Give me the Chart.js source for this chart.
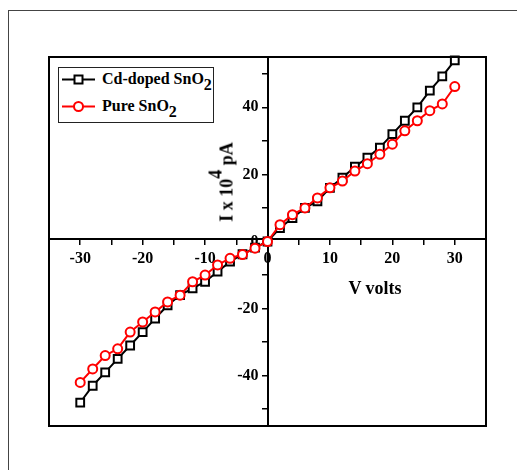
<!DOCTYPE html>
<html>
<head>
<meta charset="utf-8">
<script src="https://cdn.jsdelivr.net/npm/chart.js@4.4.1/dist/chart.umd.min.js"></script>
<style>
  html, body { margin: 0; padding: 0; background: #fff; }
  #wrap { position: relative; width: 517px; height: 470px; overflow: hidden;
          font-family: "Liberation Serif", "Times New Roman", serif; font-weight: bold; color: #000; }
  #frame { position: absolute; left: 8px; top: 10px; width: 600px; height: 600px;
           border-top: 1px solid #444; border-left: 1px solid #444; }
  canvas { position: absolute; left: 0; top: 0; }
  #legend { position: absolute; left: 58px; top: 67px; width: 154px; height: 54px;
            border: 1px solid #222; background: #fff; }
  #legend .row { position: absolute; left: 3px; height: 20px; display: flex; align-items: center; white-space: nowrap; }
  #legend svg { margin-right: 7px; }
  #legend span { font-size: 16px; }
  .sub { font-size: 16px; position: relative; top: 6px; }
  .sup { font-size: 18px; position: relative; top: -11px; }
  #xtitle { position: absolute; left: 375px; top: 288px; transform: translate(-50%, -50%); font-size: 18px; white-space: nowrap; }
  #ytitle { position: absolute; left: 227px; top: 182px; transform: translate(-50%, -50%) rotate(-90deg);
            font-size: 18px; white-space: nowrap; }
</style>
</head>
<body>
<div id="wrap">
  <div id="frame"></div>
  <canvas id="ivChart" width="517" height="470"></canvas>
  <div id="legend"></div>
  <div id="xtitle">V volts</div>
  <div id="ytitle">I x 10<span class="sup">4</span> pA</div>
</div>
<script>
// voltage steps (V)
const voltage = [-30, -28, -26, -24, -22, -20, -18, -16, -14, -12, -10, -8, -6, -4, -2, 0,
                 2, 4, 6, 8, 10, 12, 14, 16, 18, 20, 22, 24, 26, 28, 30];

// current, I x 10^4 pA
const cdDopedCurrent = [-48, -43, -39, -35, -31, -27, -23, -19, -16, -14, -12, -9, -6, -3.8, -1.8, 0,
                        4, 7, 10, 12, 16, 19, 22.3, 25, 28, 32, 36, 40, 45, 49.2, 54];
const pureCurrent = [-42, -38, -34, -32, -27, -24, -21, -18, -16, -12, -10, -7, -5, -3.9, -2, 0,
                     5, 8, 10, 13, 16, 18, 21, 23.2, 26, 29, 33, 36, 39, 41, 46.2];

const seriesNames = ['Cd-doped SnO|2', 'Pure SnO|2'];

// tick marks and tick labels on the axes
const yTickMarks = [-50, -40, -30, -20, -10, 0, 10, 20, 30, 40, 50];
const xTickLabels = [-30, -20, -10, 0, 10, 20, 30];
const yTickLabels = [-40, -20, 0, 20, 40];

let toPoints = (ys) => voltage.map((v, i) => ({ x: v, y: ys[i] }));

// box around the plot area
const plotFrame = {
    id: 'plotFrame',
    afterDraw(chart) {
        let { ctx, chartArea: a } = chart;
        ctx.save();
        ctx.strokeStyle = '#000';
        ctx.lineWidth = 2;
        ctx.strokeRect(a.left, a.top, a.right - a.left, a.bottom - a.top);
        ctx.restore();
    }
};

let ctx = document.getElementById('ivChart').getContext('2d');
let myChart = new Chart(ctx, {
    type: 'line',
    data: {
        datasets: [{
            label: seriesNames[0],
            data: toPoints(cdDopedCurrent),
            borderColor: '#000',
            borderWidth: 2,
            pointStyle: 'rect',
            pointRadius: 5.5,
            pointBorderWidth: 2,
            pointBackgroundColor: '#fff',
            pointBorderColor: '#000',
            order: 1,
            clip: 10
        }, {
            label: seriesNames[1],
            data: toPoints(pureCurrent),
            borderColor: '#ff0000',
            borderWidth: 2,
            pointStyle: 'circle',
            pointRadius: 4.5,
            pointBorderWidth: 2,
            pointBackgroundColor: '#fff',
            pointBorderColor: '#ff0000',
            order: 0,
            clip: 10
        }]
    },
    options: {
        responsive: false,
        animation: false,
        devicePixelRatio: 1,
        layout: { padding: { left: 49, top: 57, right: 31, bottom: 44 } },
        plugins: { legend: { display: false }, tooltip: { enabled: false } },
        scales: {
            x: {
                type: 'linear',
                min: -35,
                max: 35,
                position: { y: 0.7 },
                afterFit: (s) => { s.height = 0 },
                ticks: {
                    stepSize: 5,
                    padding: 5,
                    color: '#000',
                    font: { family: 'Liberation Serif', size: 16, weight: 'bold' },
                    callback: (v) => xTickLabels.includes(v) ? String(v) : ''
                },
                grid: { drawOnChartArea: false, drawTicks: true, tickLength: 5, color: '#000', lineWidth: 1.5 },
                border: { display: true, color: '#000', width: 2 }
            },
            y: {
                type: 'linear',
                min: -55,
                max: 55,
                position: 'center',
                afterFit: (s) => { s.width = 0 },
                afterBuildTicks: (s) => { s.ticks = yTickMarks.map(v => ({ value: v })) },
                ticks: {
                    padding: 4,
                    color: '#000',
                    font: { family: 'Liberation Serif', size: 16, weight: 'bold' },
                    callback: (v) => yTickLabels.includes(v) ? String(v) : ''
                },
                grid: { drawOnChartArea: false, drawTicks: true, tickLength: 5, color: '#000', lineWidth: 1.5 },
                border: { display: true, color: '#000', width: 2 }
            }
        }
    },
    plugins: [plotFrame]
});

// html legend built from the datasets
let legend = document.getElementById('legend');
myChart.data.datasets.forEach((ds, i) => {
    let c = ds.borderColor;
    let marker = ds.pointStyle == 'rect'
        ? `<rect x="12.5" y="3.5" width="8" height="8" fill="#fff" stroke="${c}" stroke-width="2"/>`
        : `<circle cx="16.5" cy="7.5" r="4.5" fill="#fff" stroke="${c}" stroke-width="2"/>`;
    let parts = ds.label.split('|');
    let row = document.createElement('div');
    row.className = 'row';
    row.style.top = (1 + i * 27) + 'px';
    row.innerHTML = `<svg width="33" height="15"><line x1="0" y1="7.5" x2="33" y2="7.5" stroke="${c}" stroke-width="2"/>${marker}</svg>` +
        `<span>${parts[0]}<span class="sub">${parts[1]}</span></span>`;
    legend.appendChild(row);
});
</script>
</body>
</html>
